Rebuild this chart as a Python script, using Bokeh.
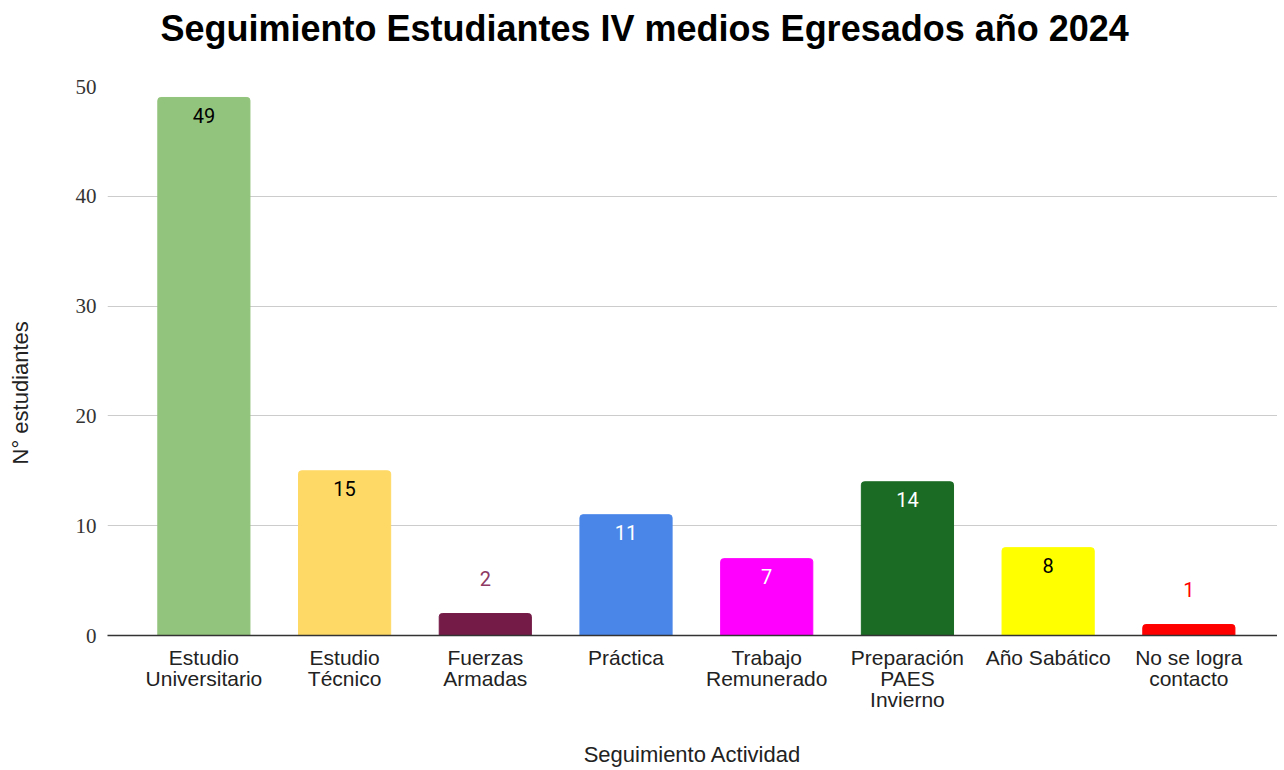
from bokeh.plotting import figure
from bokeh.models import ColumnDataSource, FixedTicker, Range1d, Title
from bokeh.core.properties import value
from bokeh.embed import file_html
from bokeh.resources import INLINE

title_text = "Seguimiento Estudiantes IV medios Egresados año 2024"
x_title = "Seguimiento Actividad"
y_title = "N° estudiantes"
categories = ["Estudio\nUniversitario", "Estudio\nTécnico", "Fuerzas\nArmadas", "Práctica",
              "Trabajo\nRemunerado", "Preparación\nPAES\nInvierno", "Año Sabático",
              "No se logra\ncontacto"]
values = [49, 15, 2, 11, 7, 14, 8, 1]
bar_colors = ["#93c47d", "#ffd966", "#741b47", "#4a86e8", "#ff00ff", "#1b6b24", "#ffff00", "#ff0000"]
label_colors = ["#000000", "#000000", "#8e3a63", "#ffffff", "#ffffff", "#ffffff", "#000000", "#ff0000"]
y_ticks = [0, 10, 20, 30, 40, 50]

idx = list(range(len(categories)))
offsets = [18 if v >= 5 else -35 for v in values]
src = ColumnDataSource(dict(x=idx, top=values, color=bar_colors, lc=label_colors,
                            txt=[str(v) for v in values], off=offsets))

p = figure(output_backend="svg", toolbar_location=None,
           width=1277, height=763, frame_width=1170, frame_height=549,
           min_border_left=107, min_border_right=0, min_border_top=86, min_border_bottom=128,
           x_range=Range1d(-0.685, 7.63), y_range=Range1d(0, 50))

p.vbar(x="x", top="top", bottom=0, width=0.655, color="color", source=src,
       border_radius=(3, 3, 0, 0))
p.text(x="x", y="top", text="txt", text_color="lc", y_offset="off", source=src,
       text_align="center", text_baseline="middle",
       text_font=value("Roboto"), text_font_size="20px")

# spacers between frame and titles, then the titles themselves
p.add_layout(Title(text=" ", text_font_size="1px", standoff=35), "above")
p.add_layout(Title(text=title_text, align="left", offset=53, standoff=0,
                   text_font="Liberation Sans", text_font_size="36px",
                   text_font_style="bold", text_color="#000000"), "above")
p.add_layout(Title(text=" ", text_font_size="1px", standoff=37), "left")
p.add_layout(Title(text=y_title, align="left", offset=171, standoff=0,
                   text_font="Liberation Sans", text_font_size="22px",
                   text_font_style="normal", text_color="#222222"), "left")

p.xaxis.ticker = FixedTicker(ticks=idx)
p.xaxis.major_label_overrides = {i: c for i, c in zip(idx, categories)}
p.xaxis.major_label_text_font = "Liberation Sans"
p.xaxis.major_label_text_font_size = "21px"
p.xaxis.major_label_text_line_height = 0.92
p.xaxis.major_label_text_color = "#222222"
p.xaxis.major_label_standoff = 4
p.xaxis.major_tick_line_color = None
p.xaxis.minor_tick_line_color = None
p.xaxis.axis_line_color = "#333333"
p.xaxis.axis_line_width = 1.5
p.xaxis.axis_label = x_title
p.xaxis.axis_label_text_font = "Liberation Sans"
p.xaxis.axis_label_text_font_size = "22px"
p.xaxis.axis_label_text_font_style = "normal"
p.xaxis.axis_label_text_color = "#222222"
p.xaxis.axis_label_standoff = 28

p.yaxis.ticker = FixedTicker(ticks=y_ticks)
p.yaxis.major_label_text_font = "Liberation Serif"
p.yaxis.major_label_text_font_size = "21px"
p.yaxis.major_label_text_color = "#333333"
p.yaxis.major_label_standoff = 5
p.yaxis.major_tick_line_color = None
p.yaxis.minor_tick_line_color = None
p.yaxis.axis_line_color = None

p.xgrid.grid_line_color = None
p.ygrid.grid_line_color = "#cccccc"
p.ygrid.grid_line_width = 1
p.outline_line_color = None

open("out.html", "w").write(file_html(p, INLINE))
